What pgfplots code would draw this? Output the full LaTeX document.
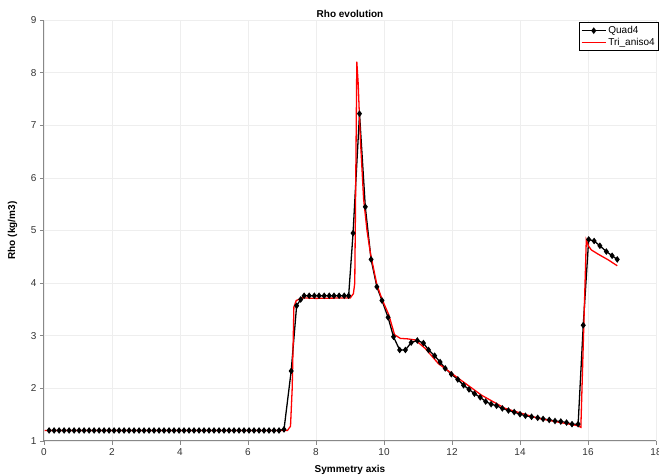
\documentclass[border=0pt]{standalone}
\usepackage{fontspec}
\setmainfont{Liberation Sans}
\usepackage{pgfplots}
\pgfplotsset{compat=1.18}
\definecolor{axgray}{HTML}{888888}
\definecolor{gridgray}{HTML}{EEEEEE}
\definecolor{tickfg}{HTML}{333333}
\begin{document}
\begin{tikzpicture}
\path[use as bounding box, clip] (-44pt,-35pt) rectangle (615pt,441pt);
\begin{axis}[
  at={(0,0)}, anchor=south west,
  width=612pt, height=421pt, scale only axis,
  xmin=0, xmax=18, ymin=1, ymax=9,
  xtick={0,2,...,18}, ytick={1,2,...,9},
  axis x line*=bottom, axis y line*=left,
  axis line style={axgray, line width=1pt},
  grid=major, grid style={gridgray, line width=0.6pt},
  tick style={axgray, line width=0.6pt},
  major tick length=4pt, tick align=outside,
  ticklabel style={font=\fontsize{10}{12}\selectfont, text=tickfg},
  /pgf/number format/assume math mode=true,
  title={Rho evolution},
  title style={at={(axis description cs:0.5,1)}, anchor=base, yshift=-4pt, font=\bfseries\fontsize{10}{12}\selectfont},
  xlabel={Symmetry axis},
  xlabel style={at={(axis description cs:0.5,0)}, anchor=center, yshift=-29pt, font=\bfseries\fontsize{10}{12}\selectfont},
  ylabel={Rho (kg/m3)},
  ylabel style={at={(axis description cs:-0.0515,0.5)}, anchor=center, font=\bfseries\fontsize{10}{12}\selectfont},
  legend style={at={(rel axis cs:1,1)}, anchor=north east, xshift=3pt, yshift=-2pt,
    draw=black, line width=0.6pt, font=\fontsize{10}{12}\selectfont, inner sep=2pt, row sep=-1pt},
  legend cell align=left,
  legend image code/.code={\draw[mark repeat=2, mark phase=2, #1] plot coordinates {(0pt,0pt) (12pt,0pt) (24pt,0pt)};},
]
\addplot[black, line width=1.3pt, mark=diamond*, mark size=2.3pt] coordinates {
(0.150,1.2) (0.297,1.2) (0.444,1.2) (0.591,1.2) (0.738,1.2) (0.885,1.2) (1.032,1.2) (1.179,1.2)
(1.326,1.2) (1.473,1.2) (1.620,1.2) (1.767,1.2) (1.914,1.2) (2.061,1.2) (2.208,1.2) (2.355,1.2)
(2.502,1.2) (2.649,1.2) (2.796,1.2) (2.943,1.2) (3.090,1.2) (3.237,1.2) (3.384,1.2) (3.531,1.2)
(3.678,1.2) (3.825,1.2) (3.972,1.2) (4.119,1.2) (4.266,1.2) (4.413,1.2) (4.560,1.2) (4.707,1.2)
(4.854,1.2) (5.001,1.2) (5.148,1.2) (5.295,1.2) (5.442,1.2) (5.589,1.2) (5.736,1.2) (5.883,1.2)
(6.030,1.2) (6.177,1.2) (6.324,1.2) (6.471,1.2) (6.618,1.2) (6.765,1.2) (6.912,1.2) (7.059,1.22)
(7.27,2.33) (7.43,3.57) (7.55,3.69) (7.65,3.76) (7.80,3.76) (7.95,3.76) (8.09,3.76) (8.24,3.76)
(8.39,3.76) (8.53,3.76) (8.68,3.76) (8.83,3.76) (8.96,3.76) (9.09,4.95) (9.28,7.22) (9.45,5.45)
(9.62,4.45) (9.79,3.93) (9.94,3.67) (10.12,3.35) (10.28,2.98) (10.46,2.73) (10.63,2.73) (10.80,2.87)
(10.98,2.91) (11.16,2.86) (11.31,2.73) (11.49,2.62) (11.65,2.50) (11.80,2.38) (11.98,2.27) (12.17,2.17)
(12.34,2.06) (12.50,1.98) (12.66,1.90) (12.83,1.83) (12.99,1.75) (13.15,1.70) (13.31,1.67) (13.48,1.62)
(13.66,1.58) (13.83,1.55) (14.00,1.51) (14.16,1.48) (14.34,1.46) (14.52,1.44) (14.68,1.42) (14.86,1.40)
(15.03,1.38) (15.20,1.37) (15.37,1.35) (15.53,1.32) (15.71,1.32) (15.86,3.20) (16.02,4.83) (16.18,4.80)
(16.35,4.71) (16.54,4.60) (16.71,4.52) (16.86,4.45)
};
\addlegendentry{Quad4}
\addplot[red, line width=1.3pt, no markers] coordinates {
(0.02,1.2) (7.10,1.2) (7.16,1.20) (7.25,1.28) (7.30,2.0) (7.35,3.55) (7.42,3.67) (7.60,3.72)
(8.0,3.71) (9.01,3.72) (9.10,3.80) (9.14,4.0) (9.17,6.0) (9.20,8.21) (9.24,7.8) (9.30,6.8)
(9.40,5.6) (9.50,5.0) (9.60,4.57) (9.79,3.97) (9.95,3.68) (10.14,3.40) (10.31,3.02) (10.48,2.95)
(10.70,2.94) (10.92,2.92) (11.21,2.76) (11.60,2.47) (12.19,2.19) (12.87,1.87) (13.56,1.62) (14.54,1.43)
(15.20,1.35) (15.71,1.29) (15.79,1.26) (15.95,4.82) (16.02,4.70) (16.10,4.63) (16.30,4.55) (16.60,4.44)
(16.86,4.33)
};
\addlegendentry{Tri\_aniso4}
\end{axis}
\end{tikzpicture}
\end{document}
